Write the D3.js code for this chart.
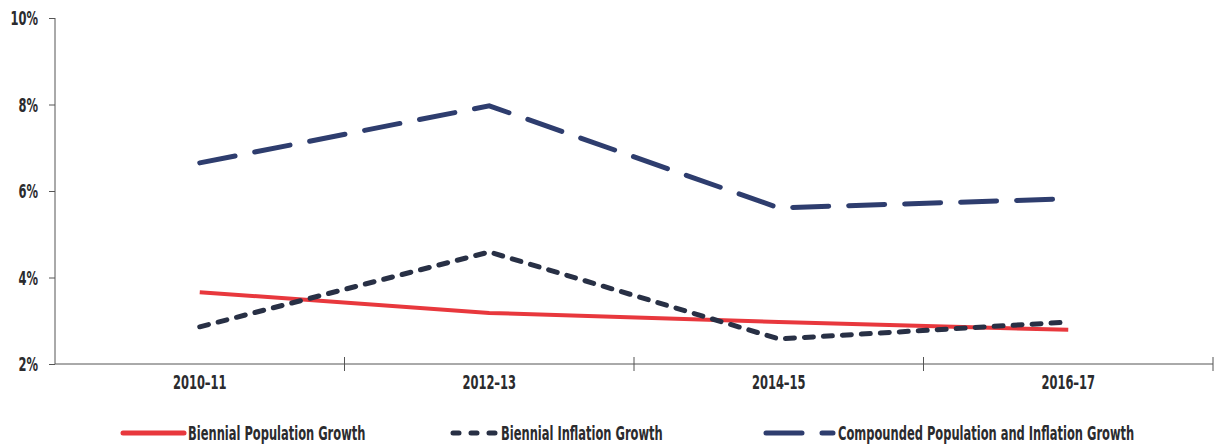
<!DOCTYPE html>
<html><head><meta charset="utf-8">
<script src="https://cdn.jsdelivr.net/npm/d3@7"></script>
<style>
body{margin:0;background:#fff;}
text{font-family:"DejaVu Sans Condensed","DejaVu Sans",sans-serif;font-stretch:condensed;font-weight:bold;fill:#2b2b2e;}
</style></head><body>
<svg id="c" width="1220" height="445"></svg>
<script>
const categories = ["2010–11","2012–13","2014–15","2016–17"];
const populationGrowth = [3.66, 3.18, 2.97, 2.79];
const inflationGrowth = [2.86, 4.59, 2.58, 2.97];
const compoundedGrowth = [6.65, 7.97, 5.61, 5.82];
const yTicks = [2, 4, 6, 8, 10];
const seriesNames = ["Biennial Population Growth","Biennial Inflation Growth","Compounded Population and Inflation Growth"];

const svg = d3.select("#c");
const x = d3.scaleBand().domain(categories).range([55, 1213]);
const y = d3.scaleLinear().domain([2, 10]).range([364, 18]);
const FS = 19;

// horizontal compression to imitate the condensed typeface
const probe = svg.append("text").attr("font-size",FS);
probe.text(seriesNames[2]); const w2 = probe.node().getComputedTextLength();
probe.text(seriesNames[0]); const w0 = probe.node().getComputedTextLength();
probe.remove();
const K = (290 + 184) / (w2 + w0);

function label(parent, px, py, str, anchor){
  const g = parent.append("g").attr("transform",`translate(${px},${py}) scale(${K},1)`);
  g.append("text").attr("font-size",FS).attr("text-anchor",anchor||"start").text(str);
  return g;
}

// y axis
const ya = svg.append("g").attr("transform","translate(55,0)")
  .call(d3.axisLeft(y).tickValues(yTicks).tickFormat("").tickSize(6));
ya.select(".domain").attr("stroke","#555").attr("d","M0,18V364");
ya.selectAll(".tick line").attr("stroke","#555");
yTicks.forEach(v=>label(svg, 38, y(v)+7, v+"%", "end"));

// x axis
const xa = svg.append("g").attr("transform","translate(0,364)");
xa.append("line").attr("x1",55).attr("x2",1213).attr("y1",0).attr("y2",0).attr("stroke","#555");
const bounds = categories.map(c=>x(c)+x.bandwidth());
xa.selectAll("line.tk").data(bounds).join("line").attr("class","tk")
  .attr("x1",d=>d).attr("x2",d=>d).attr("y1",-7).attr("y2",7).attr("stroke","#555");
categories.forEach(c=>label(svg, x(c)+x.bandwidth()/2, 389, c, "middle"));

const line = d3.line().x((d,i)=>x(categories[i])+x.bandwidth()/2).y(d=>y(d));

svg.append("path").datum(compoundedGrowth).attr("d",line).attr("fill","none")
  .attr("stroke","#2e3d6e").attr("stroke-width",5).attr("stroke-linecap","round")
  .attr("stroke-dasharray","36,20");
svg.append("path").datum(populationGrowth).attr("d",line).attr("fill","none")
  .attr("stroke","#e8383d").attr("stroke-width",4);
svg.append("path").datum(inflationGrowth).attr("d",line).attr("fill","none")
  .attr("stroke","#283045").attr("stroke-width",5).attr("stroke-linecap","round")
  .attr("stroke-dasharray","9,10");

// legend
const lg = svg.append("g");
lg.append("line").attr("x1",123).attr("x2",184).attr("y1",433).attr("y2",433)
  .attr("stroke","#e8383d").attr("stroke-width",5).attr("stroke-linecap","round");
label(lg, 188, 440, seriesNames[0]);
lg.append("line").attr("x1",453).attr("x2",497).attr("y1",433).attr("y2",433)
  .attr("stroke","#283045").attr("stroke-width",5).attr("stroke-linecap","round")
  .attr("stroke-dasharray","6,12");
label(lg, 501, 440, seriesNames[1]);
lg.append("line").attr("x1",766).attr("x2",833).attr("y1",433).attr("y2",433)
  .attr("stroke","#2e3d6e").attr("stroke-width",5).attr("stroke-linecap","round")
  .attr("stroke-dasharray","36,20");
label(lg, 838, 440, seriesNames[2]);
</script></body></html>
